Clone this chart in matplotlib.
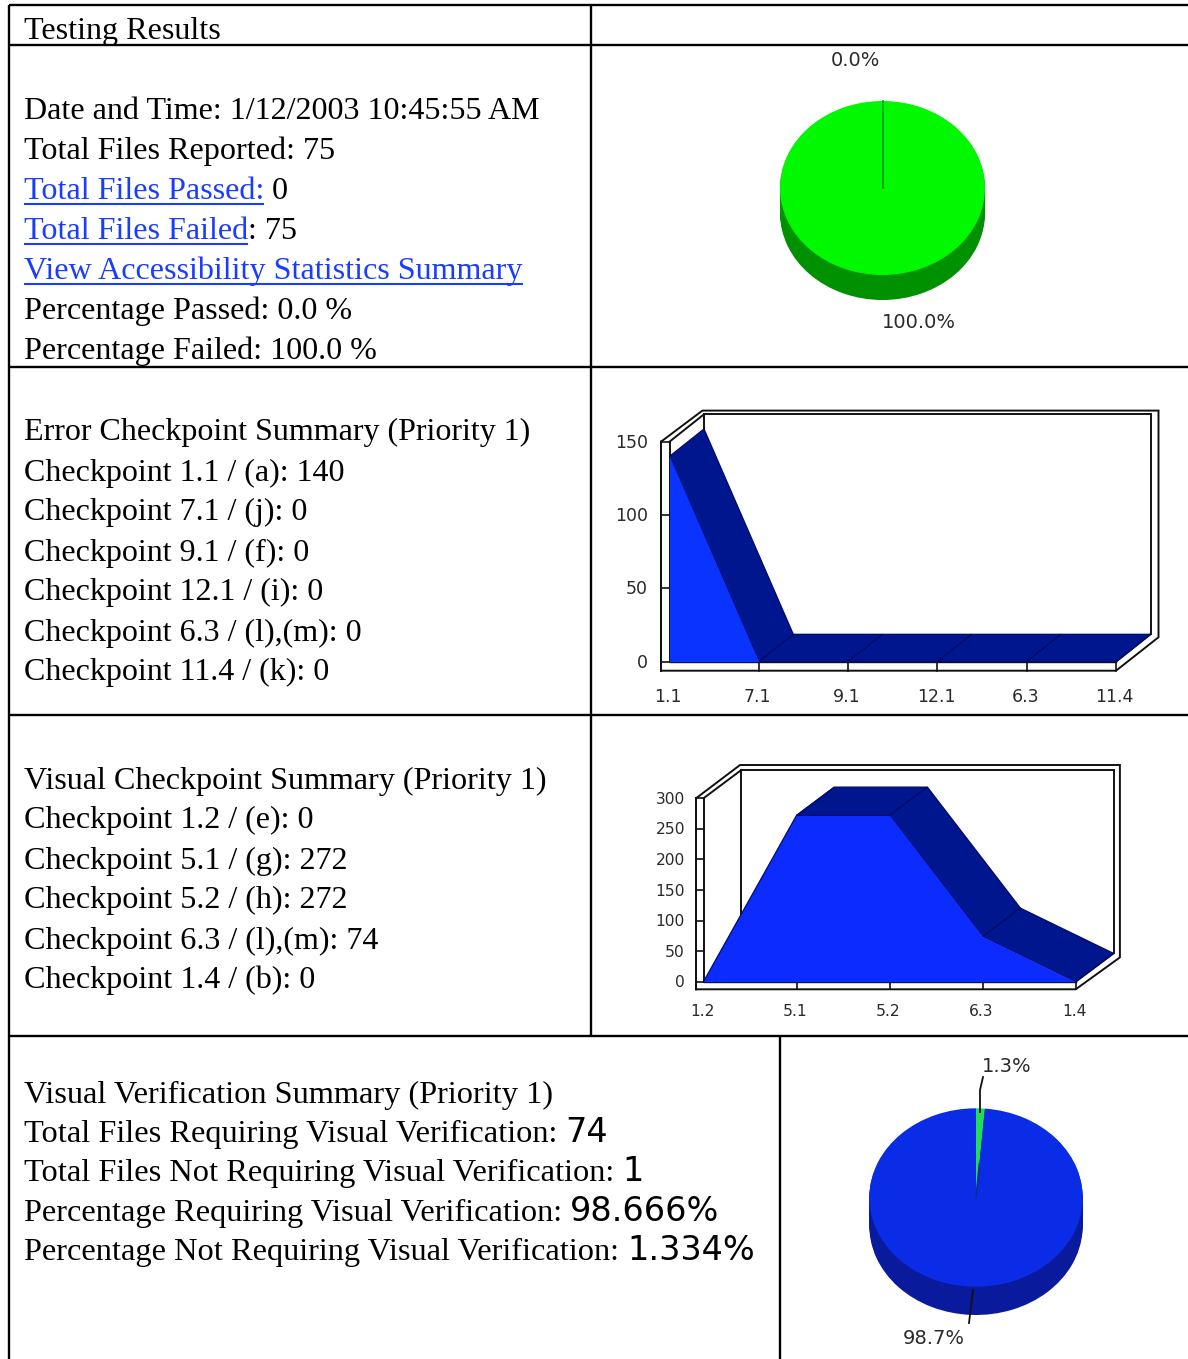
import numpy as np
import matplotlib
matplotlib.use("Agg")
import matplotlib.pyplot as plt
from matplotlib.patches import Polygon

W, H = 1188, 1359

# chart values
errorCats = ["1.1", "7.1", "9.1", "12.1", "6.3", "11.4"]
errorVals = [140, 0, 0, 0, 0, 0]
errorTicks = [0, 50, 100, 150]

visualCats = ["1.2", "5.1", "5.2", "6.3", "1.4"]
visualVals = [0, 272, 272, 74, 0]
visualTicks = [0, 50, 100, 150, 200, 250, 300]

passFailVals = [0.0, 100.0]
verifyVals = [1.334, 98.666]

BLACK = "#000000"
LINK = "#1a3cff"
SERIF = "Liberation Serif"
SANS = "DejaVu Sans"
LABEL = "#2a2a2a"
BASE_PT = 32.2 * 0.72

fig = plt.figure(figsize=(W / 100, H / 100), dpi=100, facecolor="white")
over = fig.add_axes([0, 0, 1, 1], zorder=5)
over.set_xlim(0, W)
over.set_ylim(H, 0)
over.axis("off")
over.patch.set_alpha(0)
renderer = fig.canvas.get_renderer()


def textWidth(s, **kw):
  # bar trick so trailing spaces get counted
  a = over.text(0, 0, s + "|", **kw)
  b = over.text(0, 0, "|", **kw)
  w = a.get_window_extent(renderer).width - b.get_window_extent(renderer).width
  a.remove()
  b.remove()
  return w


# runs are (text, colour, underlined, font)
def writeLine(x, y, runs, scale=1.0):
  y = y + 1
  for run in runs:
    s, col, ul, fam = run
    size = BASE_PT * scale if fam == SERIF else BASE_PT * 1.04
    kw = dict(fontsize=size, family=fam)
    over.text(x, y, s, color=col, va="baseline", ha="left", **kw)
    w = textWidth(s, **kw)
    if ul:
      over.plot([x, x + w], [y + 4.5, y + 4.5], color=col, lw=1.5, solid_capstyle="butt")
    x += w


def plain(s):
  return [(s, BLACK, False, SERIF)]


left = 24
writeLine(left, 38, plain("Testing Results"))

writeLine(left, 118, plain("Date and Time: 1/12/2003 10:45:55 AM"))
writeLine(left, 158, plain("Total Files Reported: 75"))
writeLine(left, 198, [("Total Files Passed:", LINK, True, SERIF), (" 0", BLACK, False, SERIF)])
writeLine(left, 238, [("Total Files Failed", LINK, True, SERIF), (": 75", BLACK, False, SERIF)])
writeLine(left, 278, [("View Accessibility Statistics Summary", LINK, True, SERIF)])
writeLine(left, 318, plain("Percentage Passed: 0.0 %"))
writeLine(left, 358, plain("Percentage Failed: 100.0 %"))

writeLine(left, 439, plain("Error Checkpoint Summary (Priority 1)"), 0.996)
writeLine(left, 480, plain("Checkpoint 1.1 / (a): 140"), 0.996)
writeLine(left, 519, plain("Checkpoint 7.1 / (j): 0"), 0.996)
writeLine(left, 560, plain("Checkpoint 9.1 / (f): 0"), 0.996)
writeLine(left, 599, plain("Checkpoint 12.1 / (i): 0"), 0.996)
writeLine(left, 640, plain("Checkpoint 6.3 / (l),(m): 0"), 0.996)
writeLine(left, 679, plain("Checkpoint 11.4 / (k): 0"), 0.996)

writeLine(left, 788, plain("Visual Checkpoint Summary (Priority 1)"))
writeLine(left, 827, plain("Checkpoint 1.2 / (e): 0"))
writeLine(left, 868, plain("Checkpoint 5.1 / (g): 272"))
writeLine(left, 907, plain("Checkpoint 5.2 / (h): 272"))
writeLine(left, 948, plain("Checkpoint 6.3 / (l),(m): 74"))
writeLine(left, 987, plain("Checkpoint 1.4 / (b): 0"))

writeLine(left, 1102, plain("Visual Verification Summary (Priority 1)"), 1.007)
writeLine(left, 1141, [("Total Files Requiring Visual Verification: ", BLACK, False, SERIF), ("74", BLACK, False, SANS)], 1.007)
writeLine(left, 1180, [("Total Files Not Requiring Visual Verification: ", BLACK, False, SERIF), ("1", BLACK, False, SANS)], 1.007)
writeLine(left, 1220, [("Percentage Requiring Visual Verification: ", BLACK, False, SERIF), ("98.666%", BLACK, False, SANS)], 1.007)
writeLine(left, 1259, [("Percentage Not Requiring Visual Verification: ", BLACK, False, SERIF), ("1.334%", BLACK, False, SANS)], 1.007)

# table rules
rule = dict(color=BLACK, lw=1.7, solid_capstyle="butt")
for y0 in [5, 45, 367, 715, 1036]:
  over.plot([9, W], [y0, y0], **rule)
over.plot([9, 9], [5, H], **rule)
over.plot([591, 591], [5, 1036], **rule)
over.plot([780, 780], [1036, H], **rule)


def pxAxes(x0, x1, ytop, ybot):
  ax = fig.add_axes([x0 / W, 1 - ybot / H, (x1 - x0) / W, (ybot - ytop) / H], zorder=2)
  ax.axis("off")
  ax.patch.set_alpha(0)
  return ax


def areaChart(box, cats, vals, ticks, depth, frame, fs, ylabOff, xlabOff, front, side):
  x0, x1, ytop, ybot = box
  ax = pxAxes(x0, x1, ytop, ybot)
  n = len(cats)
  ax.set_xlim(0, n - 1)
  ax.set_ylim(0, ticks[-1])
  ux = (n - 1) / (x1 - x0)  # data per pixel
  uy = ticks[-1] / (ybot - ytop)
  dx, dy = depth[0] * ux, depth[1] * uy
  lo, drop, bx, by = frame
  lo, drop, bx, by = lo * ux, drop * uy, bx * ux, by * uy
  xr, yr = n - 1, ticks[-1]
  line = dict(color="#111111", lw=1.4, clip_on=False, solid_joinstyle="miter")

  # back wall and floor outlines
  ax.plot([-lo, -lo, xr, xr + dx + bx, xr + dx + bx, dx - bx * 0.2, -lo, -lo],
          [yr, -drop, -drop, dy - by * 0.8, yr + dy + by, yr + dy + by, yr, -drop], **line)
  ax.plot([dx, dx, xr + dx, xr + dx], [dy, yr + dy, yr + dy, dy], **line)
  ax.plot([0, 0], [0, yr], **line)
  ax.plot([0, dx], [yr, yr + dy], **line)
  ax.plot([xr, xr + dx], [0, dy], **line)
  ax.plot([0, xr], [0, 0], color="#111111", lw=1.0, clip_on=False)
  for t in ticks:
    ax.plot([-lo, 0], [t, t], clip_on=False, color="#111111", lw=1.2)
    ax.annotate(str(t), xy=(0, t), xytext=(ylabOff, -1), textcoords="offset pixels",
                ha="right", va="center", fontsize=fs, family=SANS,
                color=LABEL, annotation_clip=False)
  for i, c in enumerate(cats):
    if i > 0:
      ax.plot([i, i], [0, -drop], clip_on=False, color="#111111", lw=1.2)
    ax.annotate(c, xy=(i, 0), xytext=(-1.5, -xlabOff), textcoords="offset pixels",
                ha="center", va="center", fontsize=fs, family=SANS,
                color=LABEL, annotation_clip=False)

  # ribbon going back from the top edge
  for i in range(n - 1):
    pts = [(i, vals[i]), (i + 1, vals[i + 1]), (i + 1 + dx, vals[i + 1] + dy), (i + dx, vals[i] + dy)]
    ax.add_patch(Polygon(pts, closed=True, facecolor=side, edgecolor="#000a66", lw=0.9, clip_on=False, zorder=3))
  ax.fill_between(range(n), vals, 0, color=front, lw=0, clip_on=False, zorder=4)
  return ax


areaChart((669.5, 1116, 441.7, 661.7), errorCats, errorVals, errorTicks,
          (34.5, 27.4), (8.5, 9, 8, 3.7), 12.5, -21.5, 35, "#0b33ff", "#00168f")
areaChart((703.5, 1075.7, 798.3, 981.7), visualCats, visualVals, visualTicks,
          (37.8, 28.3), (7.5, 7.6, 6.4, 5), 11.2, -18.5, 30, "#0b2bff", "#00168f")


def pie3d(cx, cy, rx, ry, thick, vals, cols, darks, edge, rayLen):
  ax = pxAxes(cx - rx, cx + rx, cy - ry, cy + ry + thick)
  extra = thick / ry
  for off in np.linspace(extra, 0.01, 14):
    ax.pie(vals, colors=darks, startangle=90, counterclock=False, center=(0, -off), radius=1,
           frame=True, wedgeprops=dict(lw=0))
  wedges, _ = ax.pie(vals, colors=cols, startangle=90, counterclock=False, radius=1, frame=True,
                     wedgeprops=dict(lw=0))
  ax.set_xlim(-1, 1)
  ax.set_ylim(-1 - extra, 1)
  ax.set_aspect("auto")
  ax.axis("off")
  # slice boundary, taken from the first wedge
  th = np.deg2rad(wedges[0].theta1)
  ax.plot([0, rayLen * np.cos(th)], [0, rayLen * np.sin(th)], color=edge, lw=1.2, clip_on=False, zorder=6)
  return ax


pie3d(882.5, 188, 102.5, 87, 25, passFailVals, ["#00ff00", "#00f800"], ["#009100", "#009100"], "#00a000", 1.0)
pie3d(976, 1197.5, 106.7, 89.2, 28.3, verifyVals, ["#22dd55", "#0a2ce6"], ["#0a1a9c", "#0a1a9c"], "#0a2a9c", 0.38)

lab = dict(fontsize=14, family=SANS, color=LABEL, ha="center", va="center")
over.text(855, 60, "0.0%", **lab)
over.text(919, 323, "100.0%", **lab)
over.text(1007, 1066, "1.3%", **lab)
over.text(934, 1338, "98.7%", **lab)
over.plot([983, 980, 980], [1077, 1090, 1112], color="#111111", lw=1.3)
over.plot([973, 969], [1290, 1323], color="#111111", lw=1.3)

fig.savefig("out.png", dpi=100)
